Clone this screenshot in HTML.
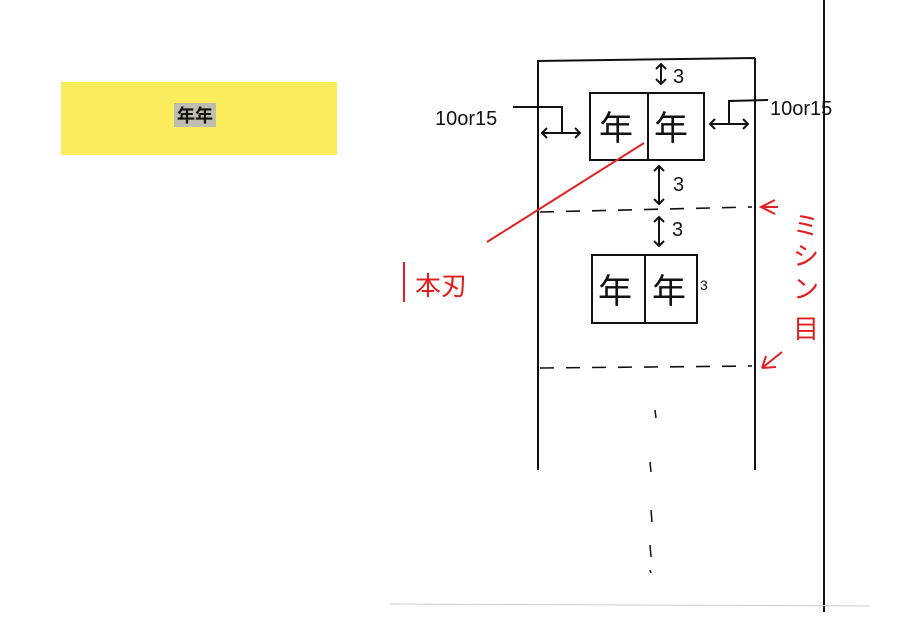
<!DOCTYPE html>
<html><head><meta charset="utf-8"><style>
body{margin:0;background:#fff;}
svg{display:block}
text{font-family:"Liberation Sans","Noto Sans CJK JP",sans-serif}
</style></head><body>
<svg width="897" height="625" viewBox="0 0 897 625">
<rect x="61" y="82" width="276" height="73" fill="#fbec5d"/>
<rect x="174" y="103" width="42" height="24" fill="#bdbdb0"/>
<text x="195" y="122" font-size="18" font-weight="bold" text-anchor="middle" fill="#111">年年</text>
<g stroke="#111" stroke-width="2" fill="none">
<line x1="824" y1="0" x2="824" y2="612"/>
<path d="M537 61 L755 58 M538 61 L538 470 M755 58 L755 470"/>
<rect x="590" y="93" width="114" height="67"/>
<line x1="648" y1="93" x2="648" y2="160"/>
<rect x="592" y="255" width="105" height="68"/>
<line x1="645" y1="255" x2="645" y2="323"/>
<g stroke-dasharray="14 12" stroke-width="1.6"><line x1="540" y1="212" x2="752" y2="207"/><line x1="540" y1="368" x2="752" y2="366"/></g>
<path d="M513 107 L562 107 L562 133 M542 133 L580 133 M547 128 L542 133 L547 138 M575 128 L580 133 L575 138"/>
<path d="M768 100 L729 101 L729 124 M710 124 L748 124 M715 119 L710 124 L715 129 M743 119 L748 124 L743 129"/>
<path d="M661 64 L661 84 M656 69 L661 64 L666 69 M656 79 L661 84 L666 79"/>
<path d="M659 166 L659 204 M654 171 L659 166 L664 171 M654 199 L659 204 L664 199"/>
<path d="M659 217 L659 246 M654 222 L659 217 L664 222 M654 241 L659 246 L664 241"/>
<path d="M655 410 l1 8 M650 462 l1 10 M651 510 l1 12 M650 545 l1 12 M650 570 l1 3" stroke-width="1.5"/>
<line x1="390" y1="604" x2="870" y2="606" stroke="#ccc" stroke-width="1"/>
</g>
<g font-size="20" fill="#111">
<text x="435" y="125">10or15</text>
<text x="770" y="115">10or15</text>
<text x="673" y="83">3</text>
<text x="673" y="191">3</text>
<text x="672" y="236">3</text>
<text x="700" y="290" font-size="14">3</text>
<g font-size="34"><text x="599" y="140">年</text><text x="654" y="140">年</text><text x="598" y="303">年</text><text x="652" y="303">年</text></g>
</g>
<g stroke="#e02020" stroke-width="2" fill="none">
<line x1="487" y1="242" x2="644" y2="143"/>
<path d="M775 200 L761 207 L775 214 M762 207 L778 207"/>
<path d="M762 368 L782 352 M762 368 L776 367 M762 368 L766 356"/>
<line x1="404" y1="262" x2="404" y2="302"/>
</g>
<g fill="#e02020" font-size="26">
<text x="415" y="295">本刃</text>
<text x="793" y="235">ミ</text>
<text x="793" y="265">シ</text>
<text x="793" y="298">ン</text>
<text x="793" y="338">目</text>
</g>
</svg>
</body></html>
